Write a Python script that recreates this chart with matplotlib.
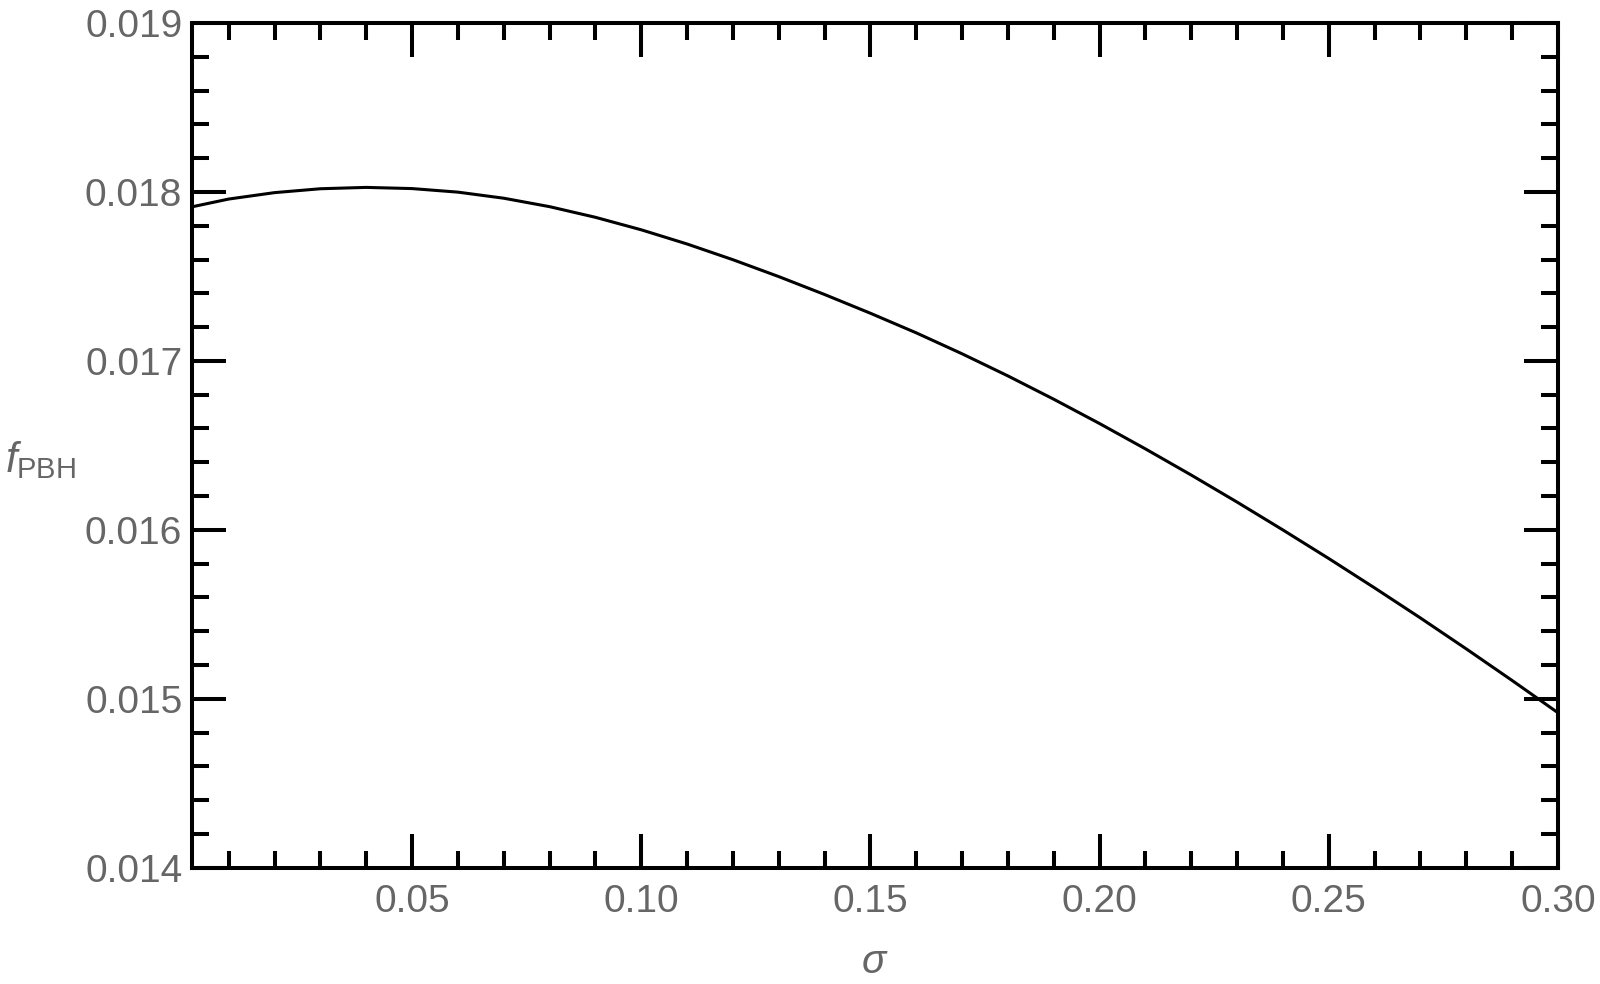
import matplotlib
matplotlib.use('Agg')
import matplotlib.pyplot as plt
from matplotlib.ticker import MultipleLocator, FormatStrFormatter

# values
sigma = [0.002, 0.01, 0.02, 0.03, 0.04, 0.05, 0.06, 0.07, 0.08, 0.09,
         0.10, 0.11, 0.12, 0.13, 0.14, 0.15, 0.16, 0.17, 0.18, 0.19,
         0.20, 0.21, 0.22, 0.23, 0.24, 0.25, 0.26, 0.27, 0.28, 0.29, 0.30]
f_pbh = [0.017912, 0.017958, 0.017996, 0.018019, 0.018027, 0.018020, 0.017999, 0.017963, 0.017913, 0.017850,
         0.017776, 0.017692, 0.017599, 0.017499, 0.017393, 0.017282, 0.017166, 0.017042, 0.016911, 0.016773,
         0.016629, 0.016479, 0.016324, 0.016164, 0.015999, 0.015830, 0.015656, 0.015478, 0.015295, 0.015108, 0.014917]

x_ticks = [0.05, 0.10, 0.15, 0.20, 0.25, 0.30]
y_ticks = [0.014, 0.015, 0.016, 0.017, 0.018, 0.019]

plt.rcParams['font.family'] = ['Liberation Sans', 'DejaVu Sans']
plt.rcParams['mathtext.fontset'] = 'custom'
plt.rcParams['mathtext.rm'] = 'Liberation Sans'
plt.rcParams['mathtext.it'] = 'Liberation Sans:italic'

label_gray = '#666666'

fig = plt.figure(figsize=(16, 9.84), dpi=100)
ax = fig.add_axes([0.12, 0.1182, 0.85375, 0.8584])

ax.plot(sigma, f_pbh, color='black', lw=2.2)

ax.set_xlim(0.002, 0.30)
ax.set_ylim(0.014, 0.019)
ax.set_xticks(x_ticks)
ax.set_yticks(y_ticks)
ax.xaxis.set_minor_locator(MultipleLocator(0.01))
ax.yaxis.set_minor_locator(MultipleLocator(0.0002))
ax.xaxis.set_major_formatter(FormatStrFormatter('%.2f'))
ax.yaxis.set_major_formatter(FormatStrFormatter('%.3f'))

for s in ax.spines.values():
    s.set_linewidth(2.9)

ax.tick_params(which='both', direction='in', top=True, right=True,
               width=2.9, colors='black', labelcolor=label_gray, labelsize=28)
ax.tick_params(which='major', length=24.5)
ax.tick_params(which='minor', length=12.2)
ax.tick_params(axis='x', pad=12)
ax.tick_params(axis='y', pad=7)

ax.set_xlabel(r'$\sigma$', fontsize=29, color=label_gray, labelpad=16)
fig.text(0.003, 0.532, r'$f_{\mathrm{PBH}}$', fontsize=30, color=label_gray,
         ha='left', va='center')

fig.savefig('out.png', dpi=100, facecolor='white')
